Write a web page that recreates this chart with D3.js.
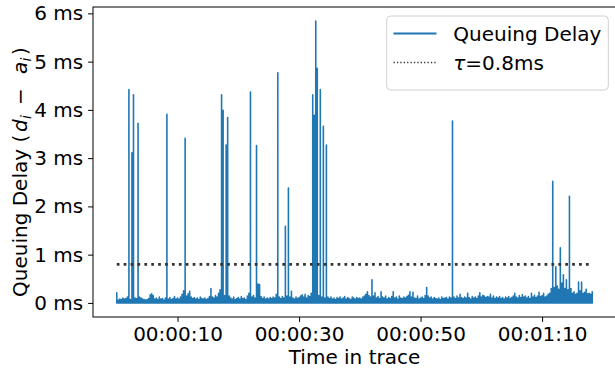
<!DOCTYPE html>
<html>
<head>
<meta charset="utf-8">
<script src="https://cdn.jsdelivr.net/npm/d3@7"></script>
<style>
body{margin:0;background:#fff;}
text{font-family:"DejaVu Sans",sans-serif;fill:#000;}
</style>
</head>
<body>
<script>
// trace binned at 0.25 s, peak queuing delay per bin (ms); idle level is 0
var stepSec = 0.25;
var floorMs = 0;
var peakMs = [
	0.21,0.06,0.08,0.07,0.1,0.08,0.09,0.12,4.42,0.07,3.11,4.31,0.1,0.09,3.72,0.12,0.1,0.08,0.07,0.06,
	0.07,0.09,0.17,0.19,0.15,0.08,0.1,0.07,0.12,0.08,0.09,0.06,0.1,3.91,0.08,0.11,0.07,0.09,0.13,0.08,
	0.1,0.08,0.12,0.18,0.25,3.41,0.14,0.19,0.24,0.12,0.09,0.11,0.08,0.1,0.07,0.12,0.09,0.08,0.1,0.07,
	0.09,0.13,0.3,0.12,0.1,0.15,0.12,0.2,0.27,4.31,3.99,0.15,3.27,3.84,0.14,0.1,0.08,0.12,0.07,0.09,
	0.11,0.08,0.13,0.09,0.1,0.07,0.14,0.2,4.37,0.12,0.15,0.1,3.26,0.39,0.38,0.13,0.09,0.12,0.08,0.1,
	0.08,0.11,0.09,0.12,0.1,0.18,4.77,0.12,0.09,0.13,0.1,1.59,0.14,2.38,0.12,0.24,0.1,0.08,0.12,0.09,
	0.11,0.14,0.17,0.12,0.18,0.1,0.15,0.13,0.2,4.31,3.89,5.84,4.86,0.15,4.42,0.12,3.66,0.1,3.27,0.12,
	0.09,0.12,0.08,0.1,0.07,0.11,0.09,0.12,0.08,0.1,0.13,0.08,0.11,0.09,0.07,0.12,0.1,0.08,0.11,0.09,
	0.1,0.08,0.12,0.14,0.18,0.23,0.15,0.12,0.48,0.14,0.21,0.1,0.13,0.09,0.23,0.12,0.1,0.14,0.08,0.11,
	0.09,0.13,0.23,0.1,0.12,0.08,0.14,0.1,0.09,0.12,0.1,0.13,0.16,0.23,0.12,0.22,0.1,0.09,0.14,0.08,
	0.1,0.12,0.09,0.15,0.32,0.14,0.1,0.12,0.08,0.11,0.09,0.08,0.1,0.07,0.12,0.09,0.1,0.11,0.08,0.12,
	0.1,3.77,0.12,0.09,0.14,0.1,0.18,0.11,0.09,0.12,0.1,0.2,0.11,0.08,0.13,0.1,0.12,0.09,0.14,0.21,
	0.12,0.16,0.14,0.11,0.13,0.12,0.18,0.1,0.14,0.09,0.12,0.1,0.13,0.09,0.11,0.08,0.12,0.1,0.13,0.09,
	0.11,0.14,0.2,0.12,0.1,0.15,0.11,0.17,0.12,0.14,0.1,0.13,0.09,0.2,0.12,0.16,0.11,0.14,0.22,0.13,
	0.15,0.2,0.12,0.14,0.18,0.2,0.3,2.52,0.32,0.75,0.35,0.28,1.14,0.41,0.58,0.3,0.48,0.27,2.21,0.3,
	0.2,0.23,0.18,0.2,0.43,0.25,0.43,0.2,0.22,0.28,0.19,0.2,0.18,0.23
];
var tauMs = 0.8;
var xTicks = [10, 30, 50, 70];
var yTicks = [0, 1, 2, 3, 4, 5, 6];
var legendLabels = ["Queuing Delay", "=0.8ms"];

var width = 615, height = 372;
var mLeft = 93, mRight = 616, mTop = 7, mBottom = 317;

var svg = d3.select("body").append("svg")
	.attr("width", width)
	.attr("height", height);

var tMax = (peakMs.length - 1) * stepSec;
var yMax = d3.max(peakMs), yMin = floorMs;
var x = d3.scaleLinear()
	.domain([-tMax * 0.05, tMax * 1.05])
	.range([mLeft, mRight]);
var y = d3.scaleLinear()
	.domain([yMin - (yMax - yMin) * 0.05, yMax + (yMax - yMin) * 0.05])
	.range([mBottom, mTop]);

svg.append("clipPath").attr("id", "plot")
	.append("rect")
	.attr("x", mLeft).attr("y", mTop)
	.attr("width", mRight - mLeft).attr("height", mBottom - mTop);

// each bin: from idle level up to its peak and back down
var pts = [];
peakMs.forEach(function(v, i){
	pts.push([i * stepSec, floorMs]);
	pts.push([i * stepSec, v]);
	pts.push([i * stepSec, floorMs]);
});

var line = d3.line()
	.x(function(d){ return x(d[0]); })
	.y(function(d){ return y(d[1]); });

svg.append("path")
	.datum(pts)
	.attr("clip-path", "url(#plot)")
	.attr("d", line)
	.attr("fill", "none")
	.attr("stroke", "#1f77b4")
	.attr("stroke-width", 1.6)
	.attr("stroke-linejoin", "round");

svg.append("line")
	.attr("x1", x(0)).attr("x2", x(tMax))
	.attr("y1", y(tauMs)).attr("y2", y(tauMs))
	.attr("stroke", "#333")
	.attr("stroke-width", 2.8)
	.attr("stroke-dasharray", "2.7,4.2");

// spines
svg.append("rect")
	.attr("x", mLeft).attr("y", mTop)
	.attr("width", mRight - mLeft).attr("height", mBottom - mTop)
	.attr("fill", "none")
	.attr("stroke", "#000")
	.attr("stroke-width", 1);

var fmtTime = function(s){
	var h = Math.floor(s / 3600), m = Math.floor(s / 60) % 60, sec = s % 60;
	return [h, m, sec].map(function(v){ return (v < 10 ? "0" : "") + v; }).join(":");
};

var xAxis = svg.append("g")
	.attr("transform", "translate(0," + mBottom + ")")
	.call(d3.axisBottom(x).tickValues(xTicks).tickFormat(fmtTime).tickSize(4.9).tickPadding(4.6));
var yAxis = svg.append("g")
	.attr("transform", "translate(" + mLeft + ",0)")
	.call(d3.axisLeft(y).tickValues(yTicks).tickFormat(function(d){ return d + " ms"; }).tickSize(4.9).tickPadding(4.9));

[xAxis, yAxis].forEach(function(g){
	g.select(".domain").remove();
	g.selectAll(".tick line").attr("stroke", "#000").attr("stroke-width", 1);
	g.selectAll(".tick text")
		.attr("font-family", "DejaVu Sans")
		.attr("font-size", 20)
		.attr("fill", "#000");
});

svg.append("text")
	.attr("x", (mLeft + mRight) / 2)
	.attr("y", 364)
	.attr("text-anchor", "middle")
	.attr("font-size", 20)
	.text("Time in trace");

// y label with math part (d_i - a_i), pieces placed along the rotated baseline
var ylab = svg.append("text")
	.attr("transform", "translate(27,297) rotate(-90)")
	.attr("font-size", 20);
ylab.append("tspan").attr("x", 0).text("Queuing Delay (");
ylab.append("tspan").attr("x", 165).attr("font-style", "italic").text("d");
ylab.append("tspan").attr("x", 178).attr("dy", 4).attr("font-style", "italic").attr("font-size", 14).text("i");
ylab.append("tspan").attr("x", 192).attr("dy", -4).text("\u2212");
ylab.append("tspan").attr("x", 223).attr("font-style", "italic").text("a");
ylab.append("tspan").attr("x", 235.5).attr("dy", 4).attr("font-style", "italic").attr("font-size", 14).text("i");
ylab.append("tspan").attr("x", 242).attr("dy", -4).text(")");

// legend
var lg = svg.append("g");
lg.append("rect")
	.attr("x", 386.7).attr("y", 16)
	.attr("width", 221.6).attr("height", 74)
	.attr("rx", 4)
	.attr("fill", "#fff").attr("fill-opacity", 0.8)
	.attr("stroke", "#d0d0d0").attr("stroke-width", 1);
lg.append("line")
	.attr("x1", 393.5).attr("x2", 436.5)
	.attr("y1", 33.5).attr("y2", 33.5)
	.attr("stroke", "#1f77b4").attr("stroke-width", 1.8);
lg.append("line")
	.attr("x1", 393.5).attr("x2", 436.5)
	.attr("y1", 62.5).attr("y2", 62.5)
	.attr("stroke", "#333").attr("stroke-width", 1.3)
	.attr("stroke-dasharray", "1.3,2.1");
lg.append("text")
	.attr("x", 453.3).attr("y", 40.5)
	.attr("font-size", 20)
	.text(legendLabels[0]);
var t2 = lg.append("text")
	.attr("x", 453.3).attr("y", 70)
	.attr("font-size", 20);
t2.append("tspan").attr("font-style", "italic").text("\u03c4");
t2.append("tspan").text(legendLabels[1]);
</script>
</body>
</html>
